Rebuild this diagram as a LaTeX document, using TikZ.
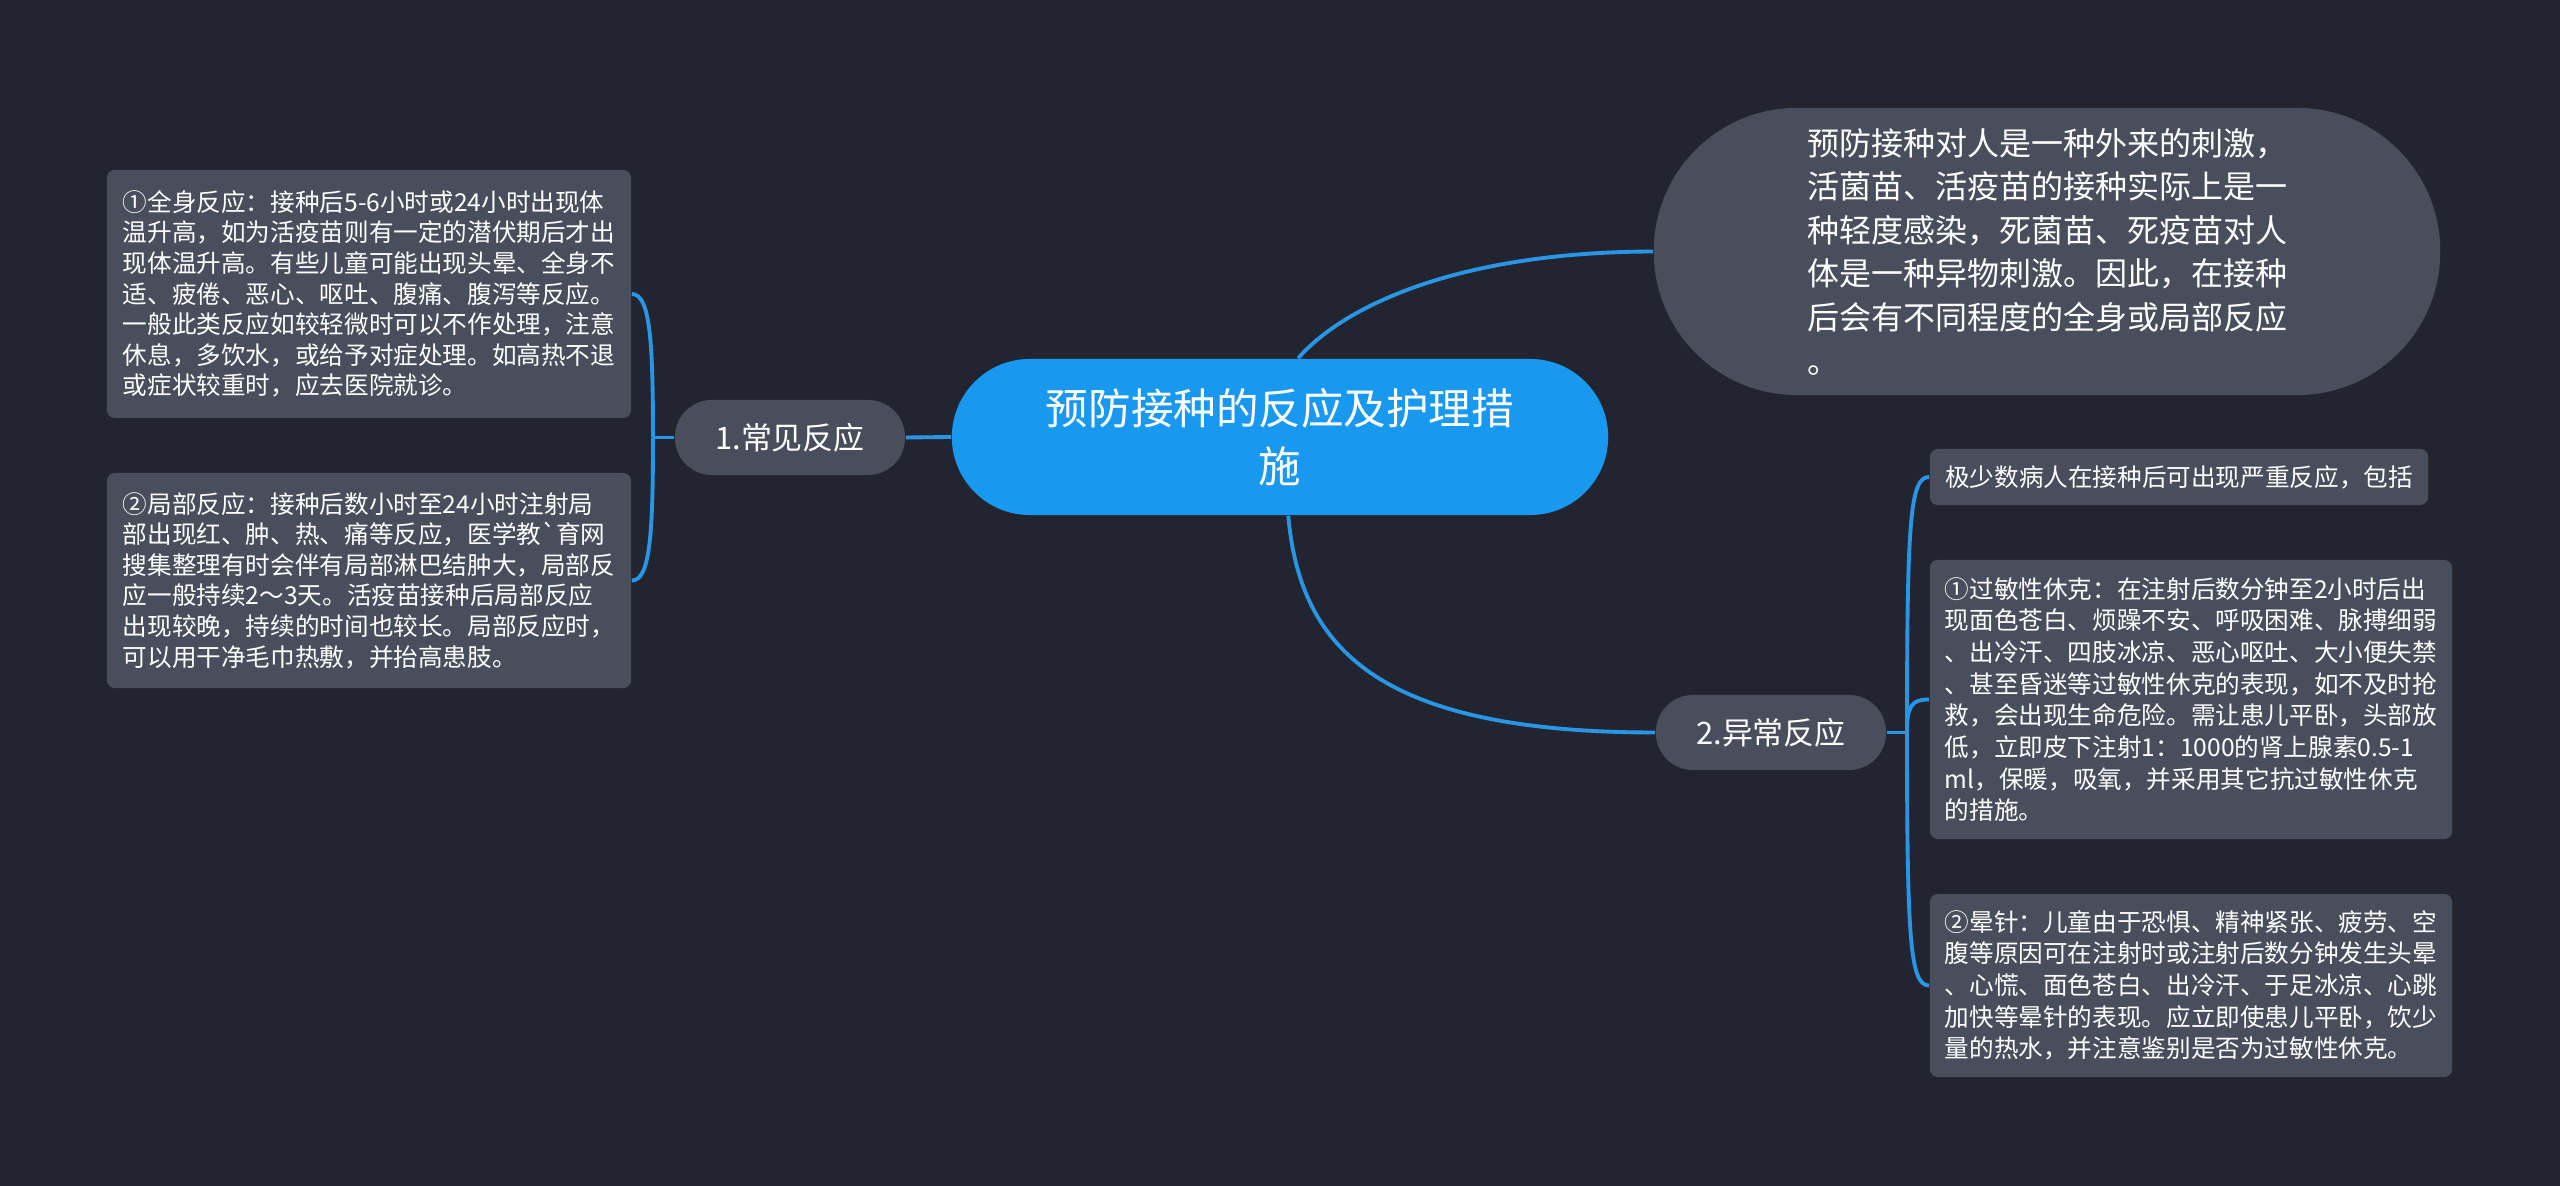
\documentclass[tikz,border=0pt]{standalone}
\usepackage{fontspec}
\setmainfont{Noto Sans CJK SC}
\definecolor{bg}{RGB}{34,37,48}
\definecolor{kasten}{RGB}{72,78,92}
\definecolor{mitte}{RGB}{24,152,238}
\definecolor{linie}{RGB}{40,150,228}

\tikzset{
  ast/.style={line width=1.1pt, draw=linie},
  kasten/.style={fill=kasten, text=white, rounded corners=0.08cm, align=left, inner sep=0pt, font={\fontsize{7}{8.7}\selectfont}},
  stufe/.style={fill=kasten, text=white, rounded corners=0.37cm, minimum width=2.3cm, minimum height=0.75cm, inner sep=0pt, font={\fontsize{8.8}{10}\selectfont}}
}

\begin{document}
\begin{tikzpicture}[x=0.01cm, y=-0.01cm]
    \path[fill=bg] (0,0) rectangle (2560,1186);
    \useasboundingbox (0,0) rectangle (2560,1186);

    \node[fill=mitte, text=white, rounded corners=0.78cm, minimum width=6.56cm, minimum height=1.56cm, align=center, font={\fontsize{12.1}{16.5}\selectfont}] (mitte) at (1280,437) {预防接种的反应及护理措\\施};

    \node[stufe] (haeufig) at (790,437.5) {1.常见反应};
    \node[stufe] (abnorm) at (1771,732.5) {2.异常反应};

    \node[fill=kasten, text=white, rounded corners=1.43cm, minimum width=7.86cm, minimum height=2.87cm, align=left, font={\fontsize{9.1}{12.4}\selectfont}] (einleitung) at (2047,251.5) {预防接种对人是一种外来的刺激，\\活菌苗、活疫苗的接种实际上是一\\种轻度感染，死菌苗、死疫苗对人\\体是一种异物刺激。因此，在接种\\后会有不同程度的全身或局部反应\\。};

    % linke Seite
    \node[kasten, minimum width=5.24cm, minimum height=2.48cm] (ganz) at (369,294) {①全身反应：接种后5-6小时或24小时出现体\\温升高，如为活疫苗则有一定的潜伏期后才出\\现体温升高。有些儿童可能出现头晕、全身不\\适、疲倦、恶心、呕吐、腹痛、腹泻等反应。\\一般此类反应如较轻微时可以不作处理，注意\\休息，多饮水，或给予对症处理。如高热不退\\或症状较重时，应去医院就诊。};
    \node[kasten, minimum width=5.24cm, minimum height=2.15cm] (lokal) at (369,580.5) {②局部反应：接种后数小时至24小时注射局\\部出现红、肿、热、痛等反应，医学教\textasciigrave 育网\\搜集整理有时会伴有局部淋巴结肿大，局部反\\应一般持续2～3天。活疫苗接种后局部反应\\出现较晚，持续的时间也较长。局部反应时，\\可以用干净毛巾热敷，并抬高患肢。};

    % rechte Seite
    \node[kasten, minimum width=4.98cm, minimum height=0.56cm] (selten) at (2179,477) {极少数病人在接种后可出现严重反应，包括};
    \node[kasten, minimum width=5.22cm, minimum height=2.79cm, font={\fontsize{7}{9}\selectfont}] (schock) at (2191,699.5) {①过敏性休克：在注射后数分钟至2小时后出\\现面色苍白、烦躁不安、呼吸困难、脉搏细弱\\、出冷汗、四肢冰凉、恶心呕吐、大小便失禁\\、甚至昏迷等过敏性休克的表现，如不及时抢\\救，会出现生命危险。需让患儿平卧，头部放\\低，立即皮下注射1：1000的肾上腺素0.5-1\\ml，保暖，吸氧，并采用其它抗过敏性休克\\的措施。};
    \node[kasten, minimum width=5.22cm, minimum height=1.83cm, font={\fontsize{7}{9}\selectfont}] (ohnmacht) at (2191,985.5) {②晕针：儿童由于恐惧、精神紧张、疲劳、空\\腹等原因可在注射时或注射后数分钟发生头晕\\、心慌、面色苍白、出冷汗、于足冰凉、心跳\\加快等晕针的表现。应立即使患儿平卧，饮少\\量的热水，并注意鉴别是否为过敏性休克。};

    \coordinate (jl) at (653,437.5);
    \coordinate (jr) at (1907,732.5);

    \draw[ast] (mitte.west) -- (haeufig.east);
    \draw[ast] (haeufig.west) -- (jl);
    \draw[ast] (jl) .. controls (653,340) and (650,294) .. (ganz.east);
    \draw[ast] (jl) .. controls (653,535) and (650,580.5) .. (lokal.east);

    \draw[ast] (mitte.77) .. controls (1340,310) and (1450,252) .. (einleitung.west);
    \draw[ast] (mitte.-84) .. controls (1300,650) and (1380,732.5) .. (abnorm.west);

    \draw[ast] (abnorm.east) -- (jr);
    \draw[ast] (jr) .. controls (1907,520) and (1910,477) .. (selten.west);
    \draw[ast] (jr) .. controls (1907,705) and (1912,699.5) .. (schock.west);
    \draw[ast] (jr) .. controls (1907,940) and (1910,985.5) .. (ohnmacht.west);

\end{tikzpicture}
\end{document}
